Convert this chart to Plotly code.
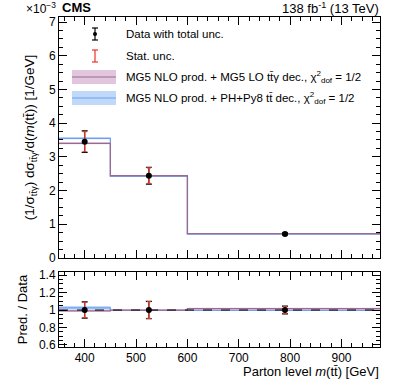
import plotly.graph_objects as go

# data ----------------------------------------------------------------------------------------------------------------
bin_edges = [350, 450, 600, 975]
bin_centers = [400, 525, 790]

data_vals = [3.45, 2.44, 0.71]
data_tot = [0.32, 0.25, 0.03]
data_stat = [0.30, 0.23, 0.02]

mg5lo_vals = [3.40, 2.44, 0.72]
mg5lo_unc = [0.03, 0.02, 0.01]
phpy8_vals = [3.55, 2.42, 0.71]
phpy8_unc = [0.03, 0.02, 0.01]

ratio_data_tot = [0.093, 0.10, 0.045]
ratio_data_stat = [0.088, 0.095, 0.04]
ratio_mg5lo = [0.99, 1.0, 1.015]
ratio_mg5lo_unc = [0.01, 0.006, 0.012]
ratio_phpy8 = [1.025, 0.995, 0.995]
ratio_phpy8_unc = [0.022, 0.005, 0.004]

x_ticks = [400, 500, 600, 700, 800, 900]

PURPLE = '#9b6a93'
PURPLE_BAND = 'rgba(205,160,200,0.6)'
BLUE = '#6f9ff0'
BLUE_BAND = 'rgba(150,190,245,0.6)'
RED = '#e8332a'
FONT = 'Liberation Sans, Arial, sans-serif'


def steps(vals):
    return list(vals) + [vals[-1]]


def shifted(vals, unc, sign):
    return [v + sign * u for v, u in zip(vals, unc)]


fig = go.Figure()


def add_model(vals, unc, line_col, band_col, yaxis, xaxis):
    lo = steps(shifted(vals, unc, -1))
    hi = steps(shifted(vals, unc, 1))
    fig.add_scatter(x=bin_edges, y=lo, mode='lines', line=dict(width=0, shape='hv'),
                    xaxis=xaxis, yaxis=yaxis, showlegend=False, hoverinfo='skip')
    fig.add_scatter(x=bin_edges, y=hi, mode='lines', line=dict(width=0, shape='hv'),
                    fill='tonexty', fillcolor=band_col,
                    xaxis=xaxis, yaxis=yaxis, showlegend=False, hoverinfo='skip')
    fig.add_scatter(x=bin_edges, y=steps(vals), mode='lines', line=dict(color=line_col, width=1.3, shape='hv'),
                    xaxis=xaxis, yaxis=yaxis, showlegend=False)


def add_data(vals, tot, stat, yaxis, xaxis):
    fig.add_scatter(x=bin_centers, y=vals, mode='markers', marker=dict(color='black', size=1),
                    error_y=dict(array=tot, color='black', thickness=1.2, width=3),
                    xaxis=xaxis, yaxis=yaxis, showlegend=False)
    fig.add_scatter(x=bin_centers, y=vals, mode='markers', marker=dict(color='black', size=6),
                    error_y=dict(array=stat, color=RED, thickness=1.2, width=2),
                    xaxis=xaxis, yaxis=yaxis, showlegend=False)


# top panel -----------------------------------------------------------------------------------------------------------
add_model(phpy8_vals, phpy8_unc, BLUE, BLUE_BAND, 'y', 'x')
add_model(mg5lo_vals, mg5lo_unc, PURPLE, PURPLE_BAND, 'y', 'x')
add_data(data_vals, data_tot, data_stat, 'y', 'x')

# ratio panel ---------------------------------------------------------------------------------------------------------
add_model(ratio_phpy8, ratio_phpy8_unc, BLUE, BLUE_BAND, 'y2', 'x2')
add_model(ratio_mg5lo, ratio_mg5lo_unc, PURPLE, PURPLE_BAND, 'y2', 'x2')
fig.add_scatter(x=[bin_edges[0], bin_edges[-1]], y=[1, 1], mode='lines',
                line=dict(color='black', width=1, dash='dash'), xaxis='x2', yaxis='y2', showlegend=False)
add_data([1, 1, 1], ratio_data_tot, ratio_data_stat, 'y2', 'x2')

# axes ----------------------------------------------------------------------------------------------------------------
axis_common = dict(ticks='inside', mirror='allticks', showline=True, linecolor='black', linewidth=1,
                   showgrid=False, zeroline=False, tickcolor='black', ticklen=8,
                   tickfont=dict(family=FONT, size=12, color='black'))

fig.update_layout(
    width=393, height=381,
    margin=dict(l=59, r=13, t=17, b=34),
    plot_bgcolor='white', paper_bgcolor='white',
    showlegend=False,
    xaxis=dict(domain=[0, 1], range=[bin_edges[0], bin_edges[-1]], anchor='y', matches='x2',
               showticklabels=False, tickvals=x_ticks,
               minor=dict(dtick=20, ticks='inside', ticklen=4, tickcolor='black'), **axis_common),
    yaxis=dict(domain=[0.27, 1], range=[0, 7.15], anchor='x', dtick=1,
               minor=dict(dtick=0.25, ticks='inside', ticklen=4, tickcolor='black'),
               title=dict(text='(1/σ<sub>tt̄γ</sub>) dσ<sub>tt̄γ</sub>/d(<i>m</i>(tt̄)) [1/GeV]',
                          font=dict(family=FONT, size=13.5, color='black'), standoff=11),
               **axis_common),
    xaxis2=dict(domain=[0, 1], range=[bin_edges[0], bin_edges[-1]], anchor='y2', tickvals=x_ticks,
                minor=dict(dtick=20, ticks='inside', ticklen=4, tickcolor='black'), **axis_common),
    yaxis2=dict(domain=[0, 0.227], range=[0.577, 1.434], anchor='x2',
                tickvals=[0.6, 0.8, 1.0, 1.2, 1.4], ticktext=['0.6', '0.8', '1', '1.2', '1.4'],
                minor=dict(dtick=0.05, ticks='inside', ticklen=4, tickcolor='black'),
                title=dict(text='Pred. / Data', font=dict(family=FONT, size=13, color='black'), standoff=8),
                **axis_common),
)

# labels --------------------------------------------------------------------------------------------------------------
def px_x(p):
    return (p - 59) / 321


def px_y(p):
    return (347 - p) / 330


def note(text, x, y, xanchor='left', size=11.5, **kw):
    fig.add_annotation(text=text, x=px_x(x), y=px_y(y), xref='paper', yref='paper', xanchor=xanchor,
                       yanchor='middle', showarrow=False, font=dict(family=FONT, size=size, color='black'), **kw)


note('×10<sup>−3</sup>', 24, 8, size=12)
note('<b>CMS</b>', 60, 8, size=13)
note('138 fb<sup>-1</sup> (13 TeV)', 381, 8, xanchor='right', size=13)
note('Parton level <i>m</i>(tt̄) [GeV]', 381, 371, xanchor='right', size=13)

# legend --------------------------------------------------------------------------------------------------------------
note('Data with total unc.', 124, 34)
note('Stat. unc.', 124, 56)
note('MG5 NLO prod. + MG5 LO tt̄γ dec., χ<sup>2</sup><sub>dof</sub> = 1/2', 124, 77)
note('MG5 NLO prod. + PH+Py8 tt̄ dec., χ<sup>2</sup><sub>dof</sub> = 1/2', 124, 98)


def shape_line(x0, y0, x1, y1, color, width=1.2):
    fig.add_shape(type='line', xref='paper', yref='paper', x0=px_x(x0), y0=px_y(y0), x1=px_x(x1), y1=px_y(y1),
                  line=dict(color=color, width=width))


shape_line(95, 28, 95, 40, 'black')
shape_line(92, 28, 98, 28, 'black')
shape_line(92, 40, 98, 40, 'black')
fig.add_shape(type='circle', xref='paper', yref='paper', x0=px_x(93), y0=px_y(36), x1=px_x(97), y1=px_y(32),
              fillcolor='black', line=dict(color='black', width=0))
shape_line(95, 50, 95, 62, RED)
shape_line(92, 50, 98, 50, RED)
shape_line(92, 62, 98, 62, RED)

fig.add_shape(type='rect', xref='paper', yref='paper', x0=px_x(72), y0=px_y(84), x1=px_x(116), y1=px_y(70),
              fillcolor=PURPLE_BAND, line=dict(width=0))
shape_line(72, 77, 116, 77, PURPLE)
fig.add_shape(type='rect', xref='paper', yref='paper', x0=px_x(72), y0=px_y(105), x1=px_x(116), y1=px_y(91),
              fillcolor=BLUE_BAND, line=dict(width=0))
shape_line(72, 98, 116, 98, BLUE)

# page body has a default 8px margin; drop it so the figure sits at the window's corner
fig.write_html("out.html", config={'displayModeBar': False},
               post_script="document.body.style.margin='0';")
